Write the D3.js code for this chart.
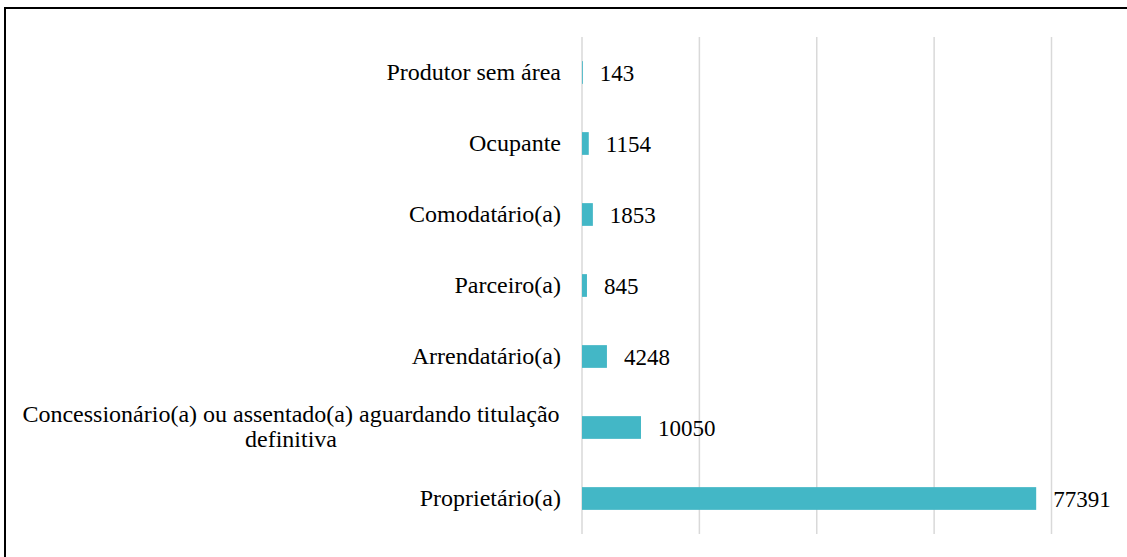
<!DOCTYPE html>
<html>
<head>
<meta charset="utf-8">
<script src="https://cdn.jsdelivr.net/npm/d3@7"></script>
<style>
  body { margin: 0; background: #fff; }
  svg { display: block; }
  text { font-family: "Liberation Serif", "Times New Roman", serif; fill: #000; }
</style>
</head>
<body>
<div id="chart"></div>
<script>
// categories from top to bottom
let categories = [
    "Produtor sem área",
    "Ocupante",
    "Comodatário(a)",
    "Parceiro(a)",
    "Arrendatário(a)",
    "Concessionário(a) ou assentado(a) aguardando titulação definitiva",
    "Proprietário(a)"
];
let values = [143, 1154, 1853, 845, 4248, 10050, 77391];
let xTicks = [0, 20000, 40000, 60000, 80000];

let width = 1127, height = 557;
let margin = { top: 37, right: 75, bottom: 23, left: 582 };

let svg = d3.select("#chart").append("svg")
    .attr("width", width)
    .attr("height", height);

// frame of the original figure (cut at bottom and right)
svg.append("path")
    .attr("d", "M5,560 L5,8 L1130,8")
    .attr("fill", "none")
    .attr("stroke", "#000")
    .attr("stroke-width", 2);

let x = d3.scaleLinear()
    .domain([0, 80000])
    .range([margin.left, 1051.5]);

let y = d3.scaleBand()
    .domain(categories)
    .range([margin.top, height - margin.bottom])
    .paddingInner(0.68)
    .paddingOuter(0.34);

// vertical gridlines
svg.append("g")
    .selectAll("line")
    .data(xTicks)
    .join("line")
    .attr("x1", d => x(d))
    .attr("x2", d => x(d))
    .attr("y1", margin.top)
    .attr("y2", height - margin.bottom)
    .attr("stroke", "#d9d9d9")
    .attr("stroke-width", 1.5);

let rows = categories.map((c, i) => ({ cat: c, value: values[i] }));

svg.append("g")
    .selectAll("rect")
    .data(rows)
    .join("rect")
    .attr("x", x(0))
    .attr("y", d => y(d.cat))
    .attr("width", d => x(d.value) - x(0))
    .attr("height", y.bandwidth())
    .attr("fill", "#43b7c6");

// value labels
svg.append("g")
    .selectAll("text")
    .data(rows)
    .join("text")
    .attr("x", d => x(d.value) + 17)
    .attr("y", d => y(d.cat) + y.bandwidth() / 2)
    .attr("dy", "0.35em")
    .style("font-size", "23px")
    .text(d => d.value);

// category labels, wrapped like the original
let wrapAt = { "Concessionário(a) ou assentado(a) aguardando titulação definitiva":
    ["Concessionário(a) ou assentado(a) aguardando titulação", "definitiva"] };

let labels = svg.append("g")
    .selectAll("text")
    .data(rows)
    .join("text")
    .style("font-size", "24px")
    .attr("text-anchor", d => wrapAt[d.cat] ? "middle" : "end")
    .attr("x", d => wrapAt[d.cat] ? 291 : 561)
    .attr("y", d => y(d.cat) + y.bandwidth() / 2);

labels.each(function (d) {
    let lines = wrapAt[d.cat] || [d.cat];
    let el = d3.select(this);
    lines.forEach((line, i) => {
        el.append("tspan")
            .attr("x", el.attr("x"))
            .attr("dy", i === 0 ? (0.33 - (lines.length - 1) * 0.55) + "em" : "1.02em")
            .text(line);
    });
});
</script>
</body>
</html>
